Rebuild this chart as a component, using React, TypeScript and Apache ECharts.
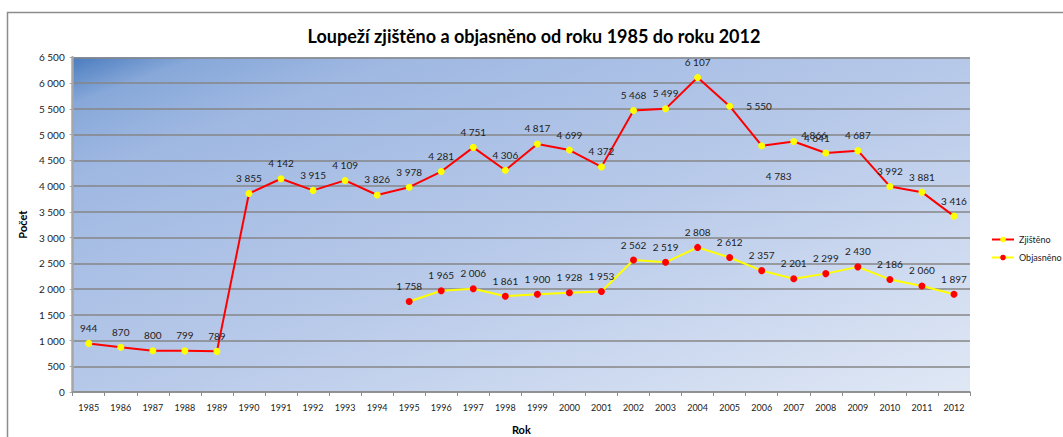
import React, { useEffect, useRef } from "react";
import * as echarts from "echarts";

const years = [
  "1985", "1986", "1987", "1988", "1989", "1990", "1991", "1992", "1993", "1994",
  "1995", "1996", "1997", "1998", "1999", "2000", "2001", "2002", "2003", "2004",
  "2005", "2006", "2007", "2008", "2009", "2010", "2011", "2012",
];

const zjisteno = [
  944, 870, 800, 799, 789, 3855, 4142, 3915, 4109, 3826,
  3978, 4281, 4751, 4306, 4817, 4699, 4372, 5468, 5499, 6107,
  5550, 4783, 4866, 4641, 4687, 3992, 3881, 3416,
];

const objasneno = [
  null, null, null, null, null, null, null, null, null, null,
  1758, 1965, 2006, 1861, 1900, 1928, 1953, 2562, 2519, 2808,
  2612, 2357, 2201, 2299, 2430, 2186, 2060, 1897,
];

const yTicks = [0, 500, 1000, 1500, 2000, 2500, 3000, 3500, 4000, 4500, 5000, 5500, 6000, 6500];

const fmt = (v: number) => String(v).replace(/\B(?=(\d{3})+(?!\d))/g, " ");

const FONT = "Lato";

// label placement quirks (by year)
const labelOverrides: Record<string, any> = {
  "2005": { position: "right", distance: 13 },
  "2006": { position: "bottom", distance: 22, offset: [17, 0] },
  "2007": { position: "right", distance: 4, offset: [0, -6] },
  "2008": { position: "top", distance: 5, offset: [-9, -2] },
};

export default function App() {
  const ref = useRef<HTMLDivElement>(null);

  useEffect(() => {
    if (!ref.current) return;
    const chart = echarts.init(ref.current, undefined, { renderer: "svg" });

    const labelBase = {
      show: true,
      position: "top",
      distance: 7,
      fontFamily: FONT,
      fontSize: 10,
      color: "#222",
      formatter: (p: any) => fmt(p.value),
    };

    const zData = zjisteno.map((v, i) => {
      const o = labelOverrides[years[i]];
      return o ? { value: v, label: o } : v;
    });

    chart.setOption({
      animation: false,
      backgroundColor: "#ffffff",
      title: {
        text: "Loupeží zjištěno a objasněno od roku 1985 do roku 2012",
        left: 529,
        top: 22,
        textAlign: "center",
        textStyle: { fontFamily: FONT, fontSize: 18, fontWeight: "bold", color: "#000" },
      },
      graphic: [
        {
          type: "rect",
          shape: { x: 7.5, y: 12.5, width: 1070, height: 440 },
          style: { fill: "none", stroke: "#8c8c8c", lineWidth: 1.5 },
          silent: true,
          z: 0,
        },
      ],
      legend: {
        orient: "vertical",
        left: 986,
        top: 230,
        itemWidth: 22,
        itemHeight: 7,
        itemGap: 9,
        textStyle: { fontFamily: FONT, fontSize: 9, color: "#222" },
        data: ["Zjištěno", "Objasněno"],
      },
      grid: {
        left: 72.7,
        top: 57.3,
        right: 93,
        bottom: 45,
        outerBoundsMode: "none",
        containLabel: false,
        show: true,
        borderWidth: 0,
        backgroundColor: {
          type: "linear",
          x: 0,
          y: 0,
          x2: 1,
          y2: 1,
          colorStops: [
            { offset: 0, color: "#4a7cbf" },
            { offset: 0.07, color: "#87a8d9" },
            { offset: 0.18, color: "#9fb8e2" },
            { offset: 0.55, color: "#bacbea" },
            { offset: 1, color: "#e0e8f5" },
          ],
        },
      },
      xAxis: {
        type: "category",
        data: years,
        boundaryGap: true,
        name: "Rok",
        nameLocation: "middle",
        nameGap: 32,
        nameTextStyle: { fontFamily: FONT, fontSize: 11, fontWeight: "bold", color: "#000" },
        axisLine: { show: true, lineStyle: { color: "#8c8c8c", width: 1.5 } },
        axisTick: { show: true, inside: false, length: 4, lineStyle: { color: "#8c8c8c" } },
        axisLabel: { fontFamily: FONT, fontSize: 9, color: "#222", margin: 11, interval: 0 },
        splitLine: { show: false },
      },
      yAxis: {
        type: "value",
        min: 0,
        max: 6500,
        interval: 500,
        name: "Počet",
        nameLocation: "middle",
        nameGap: 38,
        nameRotate: 90,
        nameTextStyle: { fontFamily: FONT, fontSize: 11, fontWeight: "bold", color: "#000" },
        axisLine: { show: true, lineStyle: { color: "#a6a6a6", width: 2.5 } },
        axisTick: { show: true, length: 3, lineStyle: { color: "#a6a6a6" } },
        axisLabel: {
          fontFamily: FONT,
          fontSize: 10,
          color: "#222",
          margin: 8,
          formatter: (v: number) => (yTicks.includes(v) ? fmt(v) : ""),
        },
        splitLine: { show: true, lineStyle: { color: "#868686", width: 1.5 } },
      },
      series: [
        {
          name: "Zjištěno",
          type: "line",
          data: zData,
          symbol: "circle",
          symbolSize: 7,
          lineStyle: { color: "#ff0000", width: 2 },
          itemStyle: { color: "#ffff00", borderWidth: 0 },
          label: labelBase,
          z: 3,
        },
        {
          name: "Objasněno",
          type: "line",
          data: objasneno,
          connectNulls: false,
          symbol: "circle",
          symbolSize: 7,
          lineStyle: { color: "#ffff00", width: 2 },
          itemStyle: { color: "#ff0000", borderWidth: 0 },
          label: labelBase,
          z: 3,
        },
      ],
    });

    return () => chart.dispose();
  }, []);

  return (
    <div
      ref={ref}
      style={{ position: "fixed", left: 0, top: 0, width: 1063, height: 437 }}
    />
  );
}
